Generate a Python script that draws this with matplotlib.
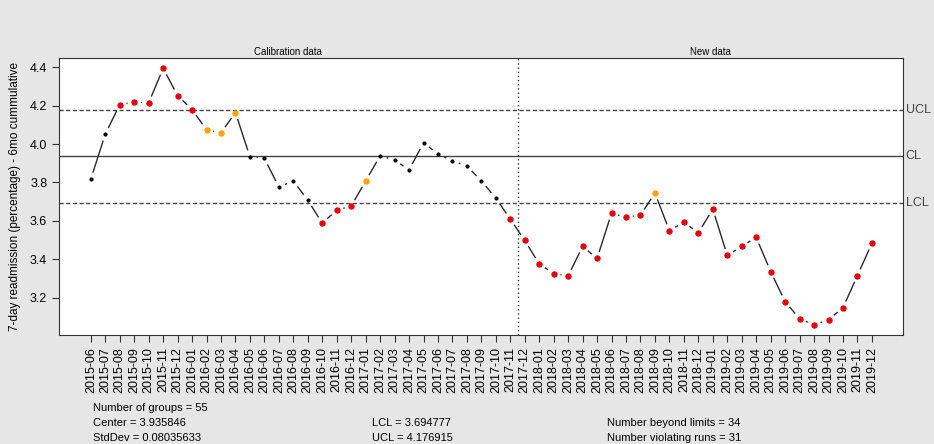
import matplotlib
matplotlib.use('Agg')
import matplotlib.pyplot as plt
import numpy as np

plt.rcParams['font.family'] = ['Liberation Sans', 'DejaVu Sans']

months = ['2015-06', '2015-07', '2015-08', '2015-09', '2015-10', '2015-11', '2015-12',
          '2016-01', '2016-02', '2016-03', '2016-04', '2016-05', '2016-06', '2016-07',
          '2016-08', '2016-09', '2016-10', '2016-11', '2016-12', '2017-01', '2017-02',
          '2017-03', '2017-04', '2017-05', '2017-06', '2017-07', '2017-08', '2017-09',
          '2017-10', '2017-11', '2017-12', '2018-01', '2018-02', '2018-03', '2018-04',
          '2018-05', '2018-06', '2018-07', '2018-08', '2018-09', '2018-10', '2018-11',
          '2018-12', '2019-01', '2019-02', '2019-03', '2019-04', '2019-05', '2019-06',
          '2019-07', '2019-08', '2019-09', '2019-10', '2019-11', '2019-12']
values = [3.818, 4.052, 4.206, 4.220, 4.215, 4.395, 4.253,
          4.180, 4.075, 4.060, 4.164, 3.934, 3.926, 3.776,
          3.808, 3.708, 3.588, 3.656, 3.677, 3.808, 3.939,
          3.918, 3.865, 4.007, 3.949, 3.913, 3.886, 3.808,
          3.719, 3.609, 3.498, 3.376, 3.325, 3.313, 3.467,
          3.404, 3.640, 3.619, 3.630, 3.745, 3.549, 3.593,
          3.538, 3.661, 3.420, 3.467, 3.514, 3.336, 3.179,
          3.090, 3.058, 3.085, 3.147, 3.315, 3.483]
# 0 = ok, 1 = beyond limits, 2 = violating runs
status = [0, 0, 1, 1, 1, 1, 1, 1, 2, 2, 2, 0, 0, 0, 0, 0, 1, 1, 1, 2,
          0, 0, 0, 0, 0, 0, 0, 0, 0, 1, 1, 1, 1, 1, 1, 1, 1, 1, 1, 2,
          1, 1, 1, 1, 1, 1, 1, 1, 1, 1, 1, 1, 1, 1, 1]
n_calib = 30
center = 3.935846
stddev = 0.08035633
lcl = 3.694777
ucl = 4.176915
n_beyond = 34
n_runs = 31

W, H = 934, 444
fig = plt.figure(figsize=(W / 100, H / 100), dpi=100)
fig.patch.set_facecolor('#e6e6e6')
ax = fig.add_axes([59 / W, (H - 335) / H, (903 - 59) / W, (335 - 58) / H])
ax.set_facecolor('white')

x = np.arange(1, len(values) + 1)
ax.set_xlim(-1.2, 57.15)
ax.set_ylim(3.005, 4.449)

ax.axhline(center, color='#444444', lw=1.0)
ax.axhline(ucl, color='#444444', lw=1.0, ls=(0, (3, 1.8)))
ax.axhline(lcl, color='#444444', lw=1.0, ls=(0, (3, 1.8)))
ax.axvline(n_calib + 0.5, color='#333333', lw=1.0, ls=(0, (1, 2)))

# lines with gaps around points (R type="b")
fig.canvas.draw()
pts = ax.transData.transform(np.column_stack([x, values]))
gap = 6.8
inv = ax.transData.inverted()
for i in range(len(pts) - 1):
    p0, p1 = pts[i], pts[i + 1]
    d = p1 - p0
    L = np.hypot(*d)
    if L <= 2 * gap:
        continue
    u = d / L
    seg = inv.transform(np.array([p0 + u * gap, p1 - u * gap]))
    ax.plot(seg[:, 0], seg[:, 1], color='#2a2a2a', lw=1.0, solid_capstyle='butt')

cols = {0: 'black', 1: '#e8000b', 2: '#ffa500'}
for xi, v, s in zip(x, values, status):
    ax.plot(xi, v, 'o', color=cols[s], ms=3.0 if s == 0 else 4.6, mec='none')

ax.set_xticks(x)
ax.set_xticklabels(months, rotation=90, fontsize=9)
ax.set_yticks([3.2, 3.4, 3.6, 3.8, 4.0, 4.2, 4.4])
ax.tick_params(axis='y', labelsize=9, length=5, color='#333333')
ax.tick_params(axis='x', length=5, color='#333333')
ax.set_ylabel('7-day readmission (percentage) - 6mo cummulative', fontsize=8.5, labelpad=6)
for sp in ax.spines.values():
    sp.set_color('#333333')

for lab, yv in [('UCL', ucl), ('CL', center), ('LCL', lcl)]:
    ax.text(1.003, yv, lab, transform=ax.get_yaxis_transform(), va='center', ha='left',
            fontsize=9, color='#444444')

ax.text((-1.2 + n_calib + 0.5) / 2, 4.455, 'Calibration data', ha='center', va='bottom', fontsize=7)
ax.text((n_calib + 0.5 + 57.15) / 2, 4.455, 'New data', ha='center', va='bottom', fontsize=7)

def ftext(px, py, s):
    fig.text(px / W, 1 - py / H, s, fontsize=8, va='center', ha='left')

ftext(93, 408, 'Number of groups = %d' % len(values))
ftext(93, 423, 'Center = %s' % center)
ftext(93, 438, 'StdDev = %s' % stddev)
ftext(372, 423, 'LCL = %s' % lcl)
ftext(372, 438, 'UCL = %s' % ucl)
ftext(607, 423, 'Number beyond limits = %d' % n_beyond)
ftext(607, 438, 'Number violating runs = %d' % n_runs)

fig.savefig('out.png', dpi=100, facecolor=fig.get_facecolor())
